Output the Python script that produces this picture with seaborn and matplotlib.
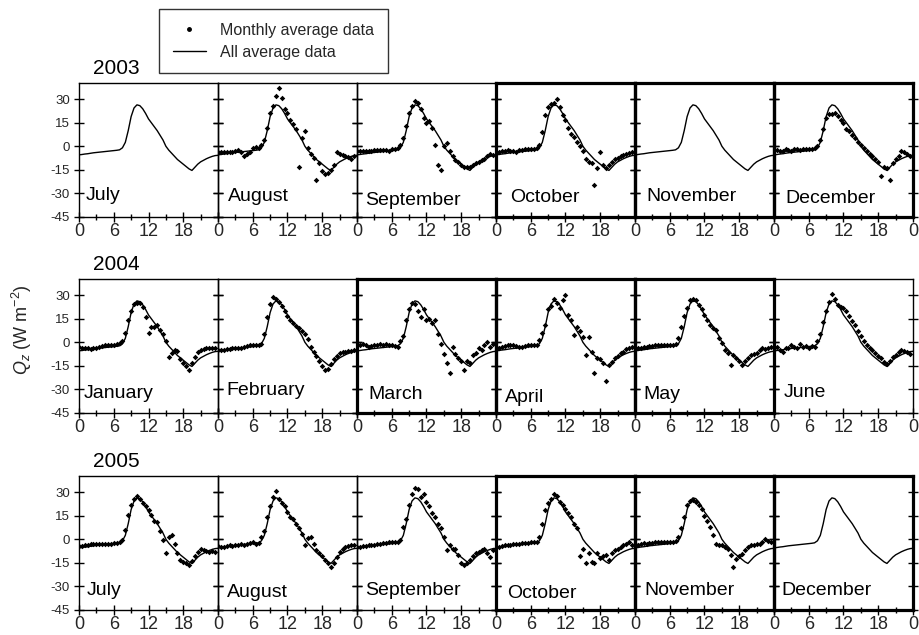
import numpy as np
import matplotlib
matplotlib.use("Agg")
import matplotlib.pyplot as plt
from matplotlib.lines import Line2D
from matplotlib.ticker import FixedLocator
import seaborn as sns

# ---------------------------------------------------------------- data
years = ["2003", "2004", "2005"]
months = [
    ["July", "August", "September", "October", "November", "December"],
    ["January", "February", "March", "April", "May", "June"],
    ["July", "August", "September", "October", "November", "December"],
]

# mean diurnal cycle of all data (W m-2), half-hourly, 0..24 h
line_hours = np.arange(0, 24.5, 0.5)
all_avg = [-5.5, -5.3, -5.0, -4.8, -4.5, -4.2, -4.0, -3.8, -3.6, -3.4,
           -3.2, -3.0, -2.8, -2.6, -2.3, -1.0, 2.5, 10.0, 19.0, 24.5,
           26.5, 26.0, 24.0, 21.0, 17.5, 15.0, 12.5, 10.0, 7.0, 4.0,
           0.0, -2.5, -4.5, -6.5, -8.5, -10.0, -11.5, -13.0, -14.5, -15.5,
           -13.5, -11.5, -10.0, -9.0, -8.0, -7.2, -6.5, -6.0, -5.8]

# monthly mean diurnal cycles, half-hourly, 0..23.5 h
obs_hours = np.arange(0, 24, 0.5)

aug_2003 = [-4, -4, -3.5, -4, -3.5, -3.5, -3, -2.5, -4, -6.5, -5, -3.5, -1, -0.5, -1, 0.5,
            4, 12, 21, 26, 32, 37, 31, 24, 21, 17, 14, 11, -13.5, 5, 10, -1,
            -5, -7.5, -21.5, -11, -16, -17.5, -17, -15, -12, -4, -5, -5.5, -6, -7, -8, -6]
sep_2003 = [-3, -3, -3, -3, -3, -3, -2.5, -2.5, -2.5, -2.5, -2.5, -3, -2, -1.5, -1, 1,
            5, 13, 21, 26, 29, 28, 24, 18, 15, 16, 12, 1, -12, -15.5, 0, 2,
            -3, -6, -8.5, -10, -12, -13, -13.5, -13, -12, -10.5, -10, -9, -8, -6.5, -5, -5.5]
oct_2003 = [-4, -3.5, -3, -3, -2.5, -3, -3, -3.5, -2.5, -2.5, -2, -2, -2, -1.5, -1, 1,
            9, 20, 25, 27, 28, 30, 25, 20, 17, 12, 8, 6, 3, 0, -3, -8,
            -10, -11, -25, -14, -4, -12, -14, -12, -10, -8, -7.5, -6, -5.5, -5, -4.5, -3.5]
dec_2003 = [-2.5, -2.5, -3, -3, -2, -2.5, -3, -2, -2, -2.5, -2, -1.5, -1.5, -1.5, -1, 0,
            4, 11, 18, 20.5, 20.5, 21, 19.5, 17, 15, 11, 10, 7, 5, 3, 1, -1,
            -3, -5, -6.5, -8, -10, -19, -13, -14, -21.5, -11, -8, -6, -3, -3.5, -5, -6]
jan_2004 = [-3, -3.5, -4, -4, -4.5, -4, -4, -3, -2.5, -2, -1.5, -1.5, -1.5, -1, -0.5, 0.5,
            6, 14, 20, 24.5, 25, 25, 22.5, 16, 6, 9.5, 10, 11, 8, 5.5, 1, -9.5,
            -7, -5, -5.5, -10.5, -13, -15, -17.5, -13, -9.5, -6.5, -5, -4.5, -4, -4, -4, -4]
feb_2004 = [-5, -5, -5, -4.5, -4.5, -4, -4, -3.5, -3.5, -3, -2.5, -2, -2, -1.5, -1.5, -1,
            5, 16, 24.5, 29, 28, 25.5, 23.5, 20, 17, 14, 12, 10.5, 9, 7.5, 5, 2,
            -3, -6.5, -9, -12, -15, -18, -17, -14, -11, -9, -7, -6.5, -6, -5.5, -5.5, -5]
mar_2004 = [-1, -1.5, -1, -2, -3, -2.5, -2, -1.5, -1, -1.5, -1, -2, -2, -2.5, -3, 1,
            4, 14, 21, 25, 24.5, 20, 16, 21, 14, 15, 12, 14.5, 5, -1, -7.5, -13,
            -20, -3, -7.5, -10, -12, -18, -12, -13, -8, -7, -4, -5, -2, 0, -3, -1]
apr_2004 = [-3, -3.5, -3, -2.5, -2, -2, -2, -2.5, -3, -3, -2.5, -2, -2, -1.5, -1.5, 1.5,
            6, 11, 21, 23, 27.5, 25, 22, 27, 30.5, 17.5, 14, 4.5, 10, 7, 3.5, -8,
            3.5, -6, -20, -10, -11, -13, -25, -14.5, -12.5, -10, -9, -7, -6, -4.5, -4, -3]
may_2004 = [-4, -4, -3.5, -3, -3, -2.5, -2.5, -2, -2, -2, -1.5, -1.5, -1.5, -1.5, -1, 2.5,
            10, 16.5, 22, 27, 28, 27, 24, 21, 17.5, 14, 11, 9, 8, 2.5, -0.5, -5,
            -7, -14.5, -8, -10, -12, -14.5, -12, -10, -8, -7.5, -7, -5, -4, -4.5, -4, -3]
jun_2004 = [-4, -3, -5, -6, -4, -3.5, -2, -3, -3.5, -1, -3, -2.5, -3.5, -2.5, -3, 1,
            5, 13, 20, 26, 31, 28, 24, 22.5, 22, 20, 16.5, 13.5, 11, 7.5, 4, 1,
            -1.5, -3.5, -5, -7, -8.5, -10, -12.5, -14, -12, -9.5, -8, -6.5, -5, -5.5, -6.5, -7.5]
jul_2005 = [-4.5, -4.5, -4, -3.5, -3, -3, -3, -3, -3, -3, -3, -3, -2.5, -2.5, -2, -0.5,
            6, 15.5, 22, 26, 28, 26, 23, 21, 18.5, 15.5, 12, 11, 5, -0.5, -9, 1.5,
            3, -3, -9, -13.5, -14.5, -15.5, -16.5, -14, -11, -8, -6, -7, -7.5, -8, -7.5, -8]
aug_2005 = [-4.5, -5, -5, -4.5, -4, -4.5, -4, -3.5, -3, -3.5, -3, -2.5, -2, -3, -2.5, 1.5,
            5, 14, 21, 27, 31, 26, 23, 21, 17.5, 14, 13, 10, 7, 3.5, -4, 0.5,
            1.5, -3, -7, -9, -11, -13, -15.5, -17.5, -15.5, -11.5, -8, -6, -5, -4.5, -4, -4]
sep_2005 = [-5, -5, -4.5, -4.5, -4, -3.5, -3.5, -3, -3, -2.5, -2.5, -2, -2, -2, -1.5, -0.5,
            8, 13, 22, 29, 32.5, 32, 27, 29, 24, 21, 16.5, 14, 10, 7, 1.5, -7,
            -4, -6.5, -6, -10, -15.5, -16.5, -15.5, -13, -10.5, -9, -8, -7, -6, -9, -11.5, -7]
oct_2005 = [-5, -5, -4.5, -4, -3.5, -3.5, -3, -3, -3, -2.5, -2.5, -2.5, -2, -1.5, -1.5, 1.5,
            10, 18.5, 23, 26, 29, 28, 24, 22, 19.5, 16.5, 14, 10, 7, -11, -6, -15,
            -9, -14.5, -15, -8.5, -12, -11, -10, -13, -9, -7, -6, -5, -4, -3, -2, -3.5]
nov_2005 = [-3, -3.5, -3, -2.5, -3, -2.5, -2.5, -2, -2, -2, -1.5, -2, -1.5, -1.5, -1, 1.5,
            7, 14, 22, 24.5, 25, 24, 22, 19.5, 15, 12, 8, 3, -3, -4, -4, -5,
            -6, -10, -18, -12.5, -11, -9.5, -7, -5, -4, -4, -3, -3, -2, 0, -1, -2]

monthly = {
    (0, 1): aug_2003, (0, 2): sep_2003, (0, 3): oct_2003, (0, 5): dec_2003,
    (1, 0): jan_2004, (1, 1): feb_2004, (1, 2): mar_2004,
    (1, 3): apr_2004, (1, 4): may_2004, (1, 5): jun_2004,
    (2, 0): jul_2005, (2, 1): aug_2005, (2, 2): sep_2005,
    (2, 3): oct_2005, (2, 4): nov_2005,
}

# panels drawn with a heavy frame
heavy = {(0, 3), (0, 4), (0, 5), (1, 2), (1, 3), (1, 4), (2, 3), (2, 4), (2, 5)}

# month name anchor (hour, W m-2) inside each panel
name_xy = [
    [(1.2, -31.7), (1.7, -32.4), (1.4, -34.8), (2.4, -32.9), (2.0, -32.4), (1.9, -33.5)],
    [(0.75, -32.7), (1.5, -31.0), (1.95, -33.5), (1.55, -35.3), (1.4, -33.5), (1.6, -32.1)],
    [(1.3, -32.9), (1.5, -34.2), (1.4, -32.9), (1.85, -34.7), (1.7, -32.6), (1.3, -32.9)],
]

# ---------------------------------------------------------------- style
sns.set_style("ticks")
plt.rcParams["font.family"] = ["Liberation Sans", "DejaVu Sans"]
plt.rcParams["axes.unicode_minus"] = False
plt.rcParams["mathtext.fontset"] = "custom"
plt.rcParams["mathtext.rm"] = "Liberation Sans"
plt.rcParams["mathtext.it"] = "Liberation Sans:italic"

W, H = 920, 635
fig = plt.figure(figsize=(W / 100, H / 100), dpi=100)
fig.patch.set_facecolor("white")

panel_left = 79
panel_w = 139
panel_h = 133.5
row_tops = [83, 279, 476]

for r in range(3):
    for c in range(6):
        x0 = (panel_left + c * panel_w) / W
        y0 = 1 - (row_tops[r] + panel_h) / H
        ax = fig.add_axes([x0, y0, panel_w / W, panel_h / H])
        ax.set_facecolor("none")

        sns.lineplot(x=line_hours, y=all_avg, ax=ax, color="black",
                     linewidth=1.0, zorder=2, sort=False)
        if (r, c) in monthly:
            sns.scatterplot(x=obs_hours, y=monthly[(r, c)], ax=ax, color="black",
                            s=8, marker="D", linewidth=0, zorder=3)

        ax.set_xlim(0, 24)
        ax.set_ylim(-45, 40.5)
        ax.set_xlabel("")
        ax.set_ylabel("")

        ax.set_xticks([0, 6, 12, 18, 24])
        ax.set_xticklabels(["0", "6", "12", "18", "0" if c == 5 else ""])
        ax.xaxis.set_minor_locator(FixedLocator([3, 9, 15, 21]))
        ax.set_yticks([-45, -30, -15, 0, 15, 30])
        if c == 0:
            ax.set_yticklabels(["-45", "-30", "-15", "0", "15", "30"])
        else:
            ax.set_yticklabels([])

        ax.tick_params(axis="both", which="major", direction="inout",
                       length=7, width=1.0, color="black")
        ax.tick_params(axis="x", which="minor", direction="inout",
                       length=5, width=1.0, color="black")
        ax.tick_params(axis="y", left=True, right=True, labelleft=(c == 0),
                       labelright=False, labelsize=9.5, pad=3)
        ax.tick_params(axis="x", top=False, labelsize=13, pad=1)

        lw = 2.3 if (r, c) in heavy else 1.0
        for side in ["left", "right", "top", "bottom"]:
            ax.spines[side].set_visible(True)
            ax.spines[side].set_linewidth(lw)
            ax.spines[side].set_color("black")
            ax.spines[side].set_zorder(5 if lw > 1 else 4)

        hx, hy = name_xy[r][c]
        ax.text(hx, hy, months[r][c], fontsize=14, ha="left", va="center",
                color="black")

        if c == 0:
            ax.text(0.1, 1.04, years[r], transform=ax.transAxes, fontsize=15,
                    ha="left", va="bottom", color="black")

fig.text(22 / W, 1 - 330 / H, r"$Q_z$ (W m$^{-2}$)", rotation=90,
         fontsize=13, ha="center", va="center")

handles = [
    Line2D([], [], marker="o", linestyle="none", color="black", markersize=2.5),
    Line2D([], [], color="black", linewidth=1.0),
]
leg = fig.legend(handles, ["Monthly average data", "All average data"],
                 loc="upper left", bbox_to_anchor=(159 / W, 1 - 9 / H),
                 borderaxespad=0.0, frameon=True, fancybox=False,
                 edgecolor="black", fontsize=11.5, handlelength=2.1,
                 borderpad=0.85, labelspacing=0.45, handletextpad=0.9)
leg.get_frame().set_linewidth(1.0)

fig.savefig("out.png", dpi=100, facecolor="white")
